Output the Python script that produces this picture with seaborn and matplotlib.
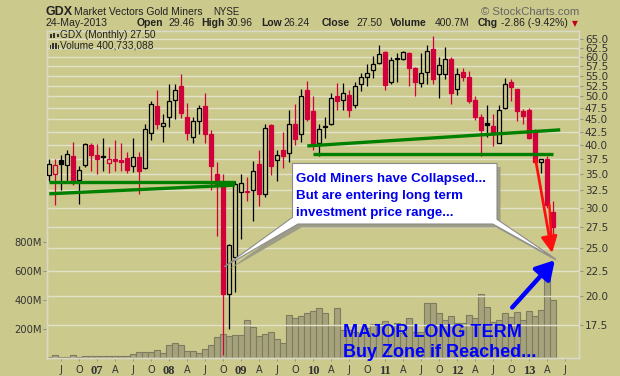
import numpy as np
import pandas as pd
import matplotlib
matplotlib.use('Agg')
import matplotlib.pyplot as plt
import seaborn as sns
from matplotlib.patches import Polygon, Rectangle
from matplotlib.ticker import FixedLocator, NullLocator, FormatStrFormatter

# GDX monthly bars, May 2006 .. May 2013
months = pd.period_range('2006-05', '2013-05', freq='M')

opens = [34.8, 35.0, 37.3, 36.5, 38.0, 34.1, 36.5, 40.0, 38.2, 38.0,
         36.8, 37.5, 37.4, 37.7, 36.3, 37.8, 36.0, 42.3, 47.8, 43.6,
         45.4, 49.2, 52.5, 45.4, 41.5, 44.7, 47.9, 42.0, 35.0, 33.4,
         20.2, 24.0, 32.3, 32.4, 32.5, 36.6, 32.0, 43.8, 37.3, 39.2,
         38.6, 44.0, 42.0, 51.4, 46.7, 40.4, 43.6, 44.0, 50.1, 49.2,
         50.4, 48.0, 53.0, 54.6, 56.4, 58.4, 61.3, 53.5, 59.6, 59.3,
         60.9, 57.0, 53.1, 56.0, 62.1, 55.4, 55.3, 59.4, 51.8, 55.9,
         54.7, 49.1, 45.5, 44.2, 43.6, 40.4, 47.4, 53.5, 51.7, 46.7,
         47.0, 42.5, 37.0, 37.5, 29.46]
highs = [37.5, 37.5, 38.3, 39.2, 40.6, 36.4, 40.3, 40.3, 40.2, 41.3,
         39.6, 41.0, 40.3, 38.7, 41.3, 38.7, 44.0, 49.0, 51.6, 46.1,
         53.0, 53.0, 55.5, 48.6, 45.5, 48.0, 50.8, 42.8, 37.1, 35.0,
         25.4, 34.0, 35.0, 34.5, 37.2, 39.1, 44.1, 44.1, 39.2, 42.5,
         47.0, 48.4, 51.7, 53.6, 50.0, 44.0, 45.6, 50.7, 53.3, 53.2,
         51.4, 53.4, 55.7, 58.0, 60.2, 63.3, 61.5, 60.0, 61.0, 61.7,
         61.4, 57.2, 60.9, 63.3, 66.0, 60.0, 62.8, 60.0, 57.0, 57.0,
         56.2, 50.1, 46.1, 48.0, 46.1, 48.0, 54.4, 54.1, 51.7, 47.3,
         47.5, 43.0, 37.6, 38.0, 30.96]
lows = [34.0, 30.4, 32.5, 33.6, 33.3, 30.6, 36.2, 35.5, 35.1, 35.5,
        35.2, 35.5, 35.6, 35.2, 35.4, 31.9, 35.8, 41.0, 43.0, 40.5,
        43.4, 45.0, 45.3, 41.0, 40.4, 42.0, 40.4, 32.5, 26.4, 15.3,
        17.2, 20.4, 26.0, 31.0, 28.2, 30.3, 31.6, 34.9, 33.9, 36.0,
        37.0, 40.0, 40.6, 44.6, 39.1, 38.1, 41.4, 43.8, 47.0, 47.0,
        45.4, 47.5, 51.2, 52.5, 54.4, 58.0, 51.4, 53.0, 53.5, 59.0,
        52.5, 50.1, 52.2, 52.9, 52.9, 49.6, 54.1, 48.3, 50.4, 53.7,
        48.5, 44.9, 38.1, 41.5, 39.9, 40.4, 47.2, 49.0, 44.6, 44.0,
        41.2, 36.8, 35.2, 30.0, 26.24]
closes = [36.7, 36.5, 36.6, 38.4, 33.6, 35.7, 40.2, 38.2, 37.5, 37.8,
          37.5, 37.2, 37.0, 35.7, 37.8, 35.5, 43.0, 48.2, 44.0, 44.3,
          49.0, 51.5, 46.3, 42.2, 44.7, 47.4, 42.0, 36.3, 33.4, 20.2,
          25.3, 33.4, 33.6, 32.2, 35.6, 32.0, 43.3, 36.4, 38.3, 38.0,
          44.0, 41.2, 50.2, 45.0, 40.3, 43.0, 43.4, 49.7, 48.9, 50.8,
          47.0, 52.5, 54.6, 55.8, 58.0, 60.7, 52.8, 59.1, 59.3, 61.4,
          57.0, 53.5, 55.8, 61.7, 54.1, 57.7, 59.4, 50.7, 55.3, 54.6,
          48.9, 45.4, 42.9, 43.9, 42.0, 47.0, 53.0, 52.2, 46.7, 45.8,
          41.3, 37.0, 37.5, 30.36, 27.50]
# volume in millions
volume = [7, 21, 12, 12, 21, 12, 18, 18, 18, 18,
          18, 18, 18, 18, 28, 46, 46, 46, 55, 39,
          90, 108, 90, 53, 53, 39, 67, 94, 143, 170,
          152, 163, 159, 262, 216, 152, 166, 177, 129, 108,
          297, 276, 290, 308, 322, 345, 308, 225, 343, 193,
          193, 182, 172, 205, 232, 232, 253, 165, 240, 172,
          274, 182, 182, 377, 377, 308, 260, 290, 244, 244,
          297, 274, 440, 350, 250, 265, 308, 280, 315, 265,
          324, 290, 330, 642, 401]

tick_pos = list(range(2, 87, 3))
tick_labels = ['J', 'O', '07', 'A', 'J', 'O', '08', 'A', 'J', 'O', '09', 'A', 'J', 'O', '10',
               'A', 'J', 'O', '11', 'A', 'J', 'O', '12', 'A', 'J', 'O', '13', 'A', 'J']
price_ticks = [17.5, 20.0, 22.5, 25.0, 27.5, 30.0, 32.5, 35.0, 37.5, 40.0, 42.5,
               45.0, 47.5, 50.0, 52.5, 55.0, 57.5, 60.0, 62.5, 65.0]
vol_ticks = [200, 400, 600, 800]
vol_labels = ['200M', '400M', '600M', '800M']

# hand drawn trend lines (month index, price)
low_flat_x, low_flat_y = [0.05, 31.0], [33.8, 33.8]
low_rise_x, low_rise_y = [0.05, 31.0], [32.0, 33.3]
top_rise_x, top_rise_y = [43.05, 85.2], [39.85, 42.9]
top_flat_x, top_flat_y = [44.05, 84.05], [38.35, 38.35]

# arrows (month index, price)
red_start, red_start2, red_tip = (81.1, 37.4), (83.4, 30.4), (83.85, 24.4)
blue_start, blue_tip = (77.2, 19.0), (84.3, 23.6)
callout_left, callout_right = (29.2, 22.9), (84.5, 23.7)

sns.set_theme(style='white')
plt.rcParams['font.family'] = ['Liberation Sans', 'DejaVu Sans']

W, H = 620, 376
bg = '#CBC98C'
grid_col = '#E2E1CA'
red = '#D2003A'
blue = '#0000EE'

fig = plt.figure(figsize=(6.2, 3.76), dpi=100, facecolor=bg)
L, R, T, B = 46.7, 579.3, 31.0, 358.3
ax = fig.add_axes([L / W, 1 - B / H, (R - L) / W, (B - T) / H])
ax.set_facecolor(bg)

vol_df = pd.DataFrame({'month': np.arange(len(volume)), 'volume': volume})
sns.barplot(data=vol_df, x='month', y='volume', native_scale=True, width=0.85,
            color='#A6A37C', saturation=1, edgecolor='#7E7C60', linewidth=0.8,
            errorbar=None, ax=ax)
ax.set_ylim(0, 2245)
ax.set_xlim(-0.38, 88.38)
ax.set_xlabel('')
ax.set_ylabel('')
ax.set_yticks(vol_ticks, vol_labels)
ax.set_xticks(tick_pos, tick_labels)
ax.tick_params(axis='x', length=2, width=0.6, color='#8A8A7A', pad=2.5, labelsize=7,
               labelcolor='#333333', bottom=True)
ax.tick_params(axis='y', length=3, width=0.6, color='#8A8A7A', pad=0.5, labelsize=7.2,
               labelcolor='#333333', left=True)
for lbl in ax.get_xticklabels():
    lbl.set_fontfamily('DejaVu Sans')
    if lbl.get_text().isdigit():
        lbl.set_fontfamily('Liberation Serif')
        lbl.set_fontweight('bold')
        lbl.set_fontsize(9)
for lbl in ax.get_yticklabels():
    lbl.set_fontfamily('DejaVu Sans')

ax2 = ax.twinx()
ax2.patch.set_visible(False)
ax2.set_yscale('log')
ax2.set_ylim(15.05, 67.5)
ax2.yaxis.set_major_locator(FixedLocator(price_ticks))
ax2.yaxis.set_major_formatter(FormatStrFormatter('%.1f'))
ax2.yaxis.set_minor_locator(NullLocator())
ax2.tick_params(axis='y', which='major', length=3, width=0.6, color='#8A8A7A', pad=1,
                labelsize=7.5, labelcolor='#333333', right=True)
for lbl in ax2.get_yticklabels():
    lbl.set_fontfamily('DejaVu Sans')
ax2.set_axisbelow(True)
ax2.grid(True, color=grid_col, lw=1.0)
for a in (ax, ax2):
    for s in a.spines.values():
        s.set_color('#DAD9C6')
        s.set_linewidth(1.0)

# candles
idx = np.arange(len(closes))
o, h, l, c = map(np.array, (opens, highs, lows, closes))
prev = np.r_[c[0], c[:-1]]
edge = np.where(c < prev, red, '#000000')
face = np.where(c < o, edge, bg)
ax2.vlines(idx, l, h, colors=edge, lw=0.9, zorder=3)
ax2.bar(idx, np.maximum(np.abs(c - o), 0.06), bottom=np.minimum(o, c), width=0.62,
        color=face, edgecolor=edge, linewidth=0.9, zorder=4)

for xs, ys in [(low_flat_x, low_flat_y), (low_rise_x, low_rise_y),
               (top_rise_x, top_rise_y), (top_flat_x, top_flat_y)]:
    ax2.plot(xs, ys, color='#008000', lw=2.4, solid_capstyle='butt', zorder=5)

# callout box with two pointers
def to_px(x, y):
    dx, dy = ax2.transData.transform((x, y))
    return dx, H - dy

tl = to_px(*callout_left)
tr = to_px(*callout_right)
box = [(292.5, 163.5), (497.0, 163.5), (497.0, 219.3), tr, (492.7, 224.0),
       (298.0, 224.0), tl, (292.5, 217.3)]
shadow = [(x + 3.5, y + 3.5) for x, y in box]
for pts, fc, ec, z in [(shadow, '#9D9C84', 'none', 5.5), (box, 'white', '#8C8C8C', 6)]:
    ax2.add_patch(Polygon([(x / W, 1 - y / H) for x, y in pts], closed=True,
                          transform=fig.transFigure, facecolor=fc, edgecolor=ec,
                          lw=0.8, zorder=z, clip_on=False))
for k, line in enumerate(['Gold Miners have Collapsed...', 'But are entering long term',
                          'investment price range...']):
    ax2.text(296 / W, 1 - (181.7 + 17 * k) / H, line, transform=fig.transFigure,
             color=blue, fontsize=9.6, fontweight='bold', va='baseline', zorder=8)

ax2.annotate('', xy=red_tip, xytext=red_start2,
             arrowprops=dict(arrowstyle='-', color='#FF1010', lw=1.8,
                             shrinkA=0, shrinkB=4), zorder=7)
ax2.annotate('', xy=red_tip, xytext=red_start,
             arrowprops=dict(arrowstyle='-|>,head_length=0.7,head_width=0.35',
                             color='#FF1010', lw=2.0, mutation_scale=14,
                             shrinkA=0, shrinkB=0), zorder=7)
ax2.annotate('', xy=blue_tip, xytext=blue_start,
             arrowprops=dict(arrowstyle='-|>,head_length=0.55,head_width=0.32',
                             color='#0000FF', lw=3.2, mutation_scale=20,
                             shrinkA=0, shrinkB=0), zorder=7)

ax2.text(343.3 / W, 1 - 336.7 / H, 'MAJOR LONG TERM', transform=fig.transFigure,
         color='#0000FF', fontsize=13, fontweight='bold', va='baseline', zorder=8)
ax2.text(343.3 / W, 1 - 357.3 / H, 'Buy Zone if Reached...', transform=fig.transFigure,
         color='#0000FF', fontsize=13, fontweight='bold', va='baseline', zorder=8)

# header
def ftext(x, y, s, **kw):
    fig.text(x / W, 1 - y / H, s, va='center', **kw)

ftext(45.8, 12, 'GDX', fontsize=9, fontweight='bold', color='#222222')
ftext(74, 12, 'Market Vectors Gold Miners', fontsize=7.5, color='#222222')
ftext(213.5, 12, 'NYSE', fontsize=7, color='#222222')
ftext(579, 12, '© StockCharts.com', fontsize=8.2, color='#666666', ha='right')
ftext(45.5, 23.3, '24-May-2013', fontsize=7.6, color='#222222')
for x, s, bold in [(136.4, 'Open', True), (168, '29.46', False), (201.6, 'High', True),
                   (227, '30.96', False), (261.7, 'Low', True), (283.4, '26.24', False),
                   (322, 'Close', True), (356.5, '27.50', False), (390, 'Volume', True),
                   (435, '400.7M', False), (477.5, 'Chg', True), (500.8, '-2.86 (-9.42%)', False)]:
    ftext(x, 23.3, s, fontsize=7.5, color='#222222', fontweight='bold' if bold else 'normal')
ftext(575, 23.5, '▼', fontsize=5.5, color='#C00020', ha='center', family='DejaVu Sans')

# legend inside chart
ftext(60, 35.5, 'GDX (Monthly) 27.50', fontsize=7.3, color='#222222')
ftext(60, 45.5, 'Volume 400,733,088', fontsize=7.3, color='#222222')
for x0, y0, w, hh in [(49.5, 33.5, 2, 4), (53, 33.0, 2, 5), (56.5, 34.0, 2, 3),
                      (49.5, 44.5, 1.6, 4), (52.3, 42.5, 1.6, 6), (55.1, 43.5, 1.6, 5),
                      (57.7, 45.0, 1.2, 3.5)]:
    fig.add_artist(Rectangle((x0 / W, 1 - (y0 + hh) / H), w / W, hh / H,
                             transform=fig.transFigure, facecolor='#333333',
                             edgecolor='none'))

fig.savefig('out.png', dpi=100, facecolor=bg)
